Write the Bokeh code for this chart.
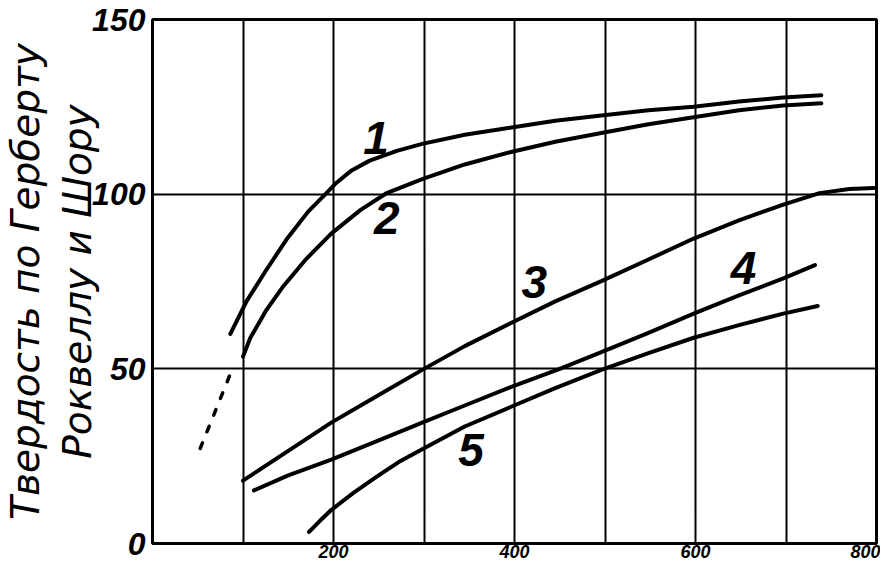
from bokeh.plotting import figure
from bokeh.models import Range1d, FixedTicker
from bokeh.core.properties import value
from bokeh.embed import file_html
from bokeh.resources import INLINE

# ---- data ----
x_ticks = [0, 100, 200, 300, 400, 500, 600, 700, 800]
x_tick_labels = ["", "", "200", "", "400", "", "600", "", "800"]
y_ticks = [0, 50, 100, 150]
y_tick_labels = ["0", "50", "100", "150"]

c1_x = [86, 104, 125, 148, 172, 193, 203, 220, 240, 270, 298, 345, 395, 445, 496, 548, 598, 648, 697, 739]
c1_y = [60, 69.4, 78, 87, 95, 100.5, 103.2, 106.8, 109.6, 112.4, 114.4, 117, 119, 121, 122.5, 124, 125, 126.5, 127.7, 128.3]

c2_x = [100, 108, 125, 145, 170, 197.5, 230, 258, 298, 345, 395, 445, 496, 548, 598, 648, 697, 739]
c2_y = [53.5, 58.8, 66.5, 73.8, 81.5, 88.7, 95.5, 100.2, 104.3, 108.5, 112, 115, 117.5, 120, 122, 124, 125.4, 126]

c3_x = [100, 150, 197.5, 250, 298, 345, 395, 445, 496, 548, 598, 648, 697, 737, 770, 797]
c3_y = [18, 26.5, 34.6, 42.5, 49.7, 56.5, 63, 69.3, 75.1, 81.3, 87.3, 92.5, 97, 100.3, 101.5, 101.8]

c4_x = [112, 150, 197.5, 250, 298, 345, 395, 450, 496, 548, 598, 648, 697, 732]
c4_y = [15.2, 19.5, 24, 29.5, 34.6, 39.5, 44.7, 50, 54.8, 60.3, 65.8, 71, 75.9, 79.7]

c5_x = [173, 185, 197.5, 222, 247, 272, 298, 345, 395, 445, 496, 548, 598, 648, 697, 735]
c5_y = [3.3, 6.5, 9.6, 14.5, 19, 23.3, 27, 33.5, 39, 44.5, 49.7, 54.5, 58.9, 62.5, 65.8, 68]

extrap_x = [52.7, 89.7]
extrap_y = [27.2, 50.9]

label_text = ["1", "2", "3", "4", "5"]
label_x = [247, 259, 422, 653, 352]
label_y = [116, 93.3, 75, 79, 26.7]

y_title = "Твердость по Герберту\nРоквеллу и Шору"

# ---- figure ----
NUM_FONT = "Liberation Sans"

p = figure(width=880, height=560, x_range=Range1d(0, 800), y_range=Range1d(0, 150),
           output_backend="svg", toolbar_location=None,
           min_border_left=147, min_border_right=4, min_border_top=19, min_border_bottom=16)
p.background_fill_color = "white"
p.border_fill_color = "white"
p.outline_line_color = "black"
p.outline_line_width = 3

p.xaxis.ticker = FixedTicker(ticks=x_ticks)
p.xaxis.major_label_overrides = {t: l for t, l in zip(x_ticks, x_tick_labels)}
p.yaxis.ticker = FixedTicker(ticks=y_ticks)
p.yaxis.major_label_overrides = {t: l for t, l in zip(y_ticks, y_tick_labels)}

for ax in (p.xaxis[0], p.yaxis[0]):
    ax.axis_line_color = None
    ax.major_tick_line_color = None
    ax.minor_tick_line_color = None
    ax.major_tick_out = 0
    ax.major_tick_in = 0
    ax.minor_tick_out = 0
    ax.major_label_text_font = NUM_FONT
    ax.major_label_text_font_style = "bold italic"
    ax.major_label_text_color = "black"

p.xaxis.major_label_text_font_size = "18px"
p.xaxis.major_label_standoff = 1
p.yaxis.major_label_text_font_size = "32px"
p.yaxis.major_label_standoff = 7

p.yaxis.axis_label = y_title
p.yaxis.axis_label_text_font = "DejaVu Sans"
p.yaxis.axis_label_text_font_style = "italic"
p.yaxis.axis_label_text_font_size = "39px"
p.yaxis.axis_label_text_line_height = 1.15
p.yaxis.axis_label_text_color = "black"
p.yaxis.axis_label_standoff = -11

p.xgrid.grid_line_color = "black"
p.xgrid.grid_line_width = 2
p.ygrid.grid_line_color = "black"
p.ygrid.grid_line_width = 2

for xs, ys in ((c1_x, c1_y), (c2_x, c2_y), (c3_x, c3_y), (c4_x, c4_y), (c5_x, c5_y)):
    p.line(xs, ys, line_color="black", line_width=4, line_cap="round", line_join="round")

p.line(extrap_x, extrap_y, line_color="black", line_width=3.5, line_dash="6 12", line_cap="round")

p.text(x=label_x, y=label_y, text=label_text, text_font=value(NUM_FONT),
       text_font_size=value("46px"), text_font_style="bold italic",
       text_align="center", text_baseline="middle", text_color="black")

open("out.html", "w").write(file_html(p, INLINE))
